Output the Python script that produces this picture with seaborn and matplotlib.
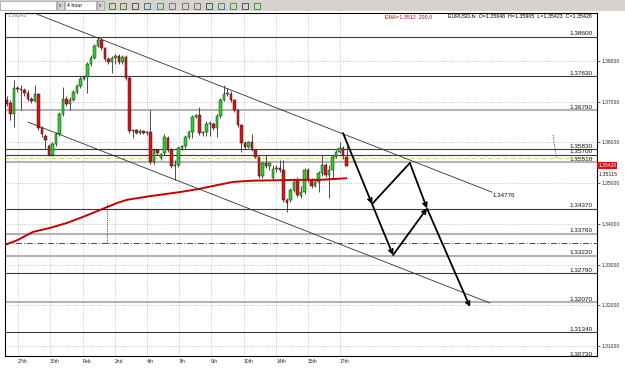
import numpy as np
import matplotlib
matplotlib.use("Agg")
import matplotlib.pyplot as plt
from matplotlib.patches import Rectangle
import seaborn as sns

# ---------------- data ----------------
opens = [1.3704, 1.3697, 1.3670, 1.3734, 1.3731, 1.3729, 1.3721, 1.3707, 1.3702, 1.3719,
         1.3635, 1.3616, 1.3591, 1.3569, 1.3596, 1.3620, 1.3670, 1.3707, 1.3694, 1.3704,
         1.3724, 1.3739, 1.3756, 1.3761, 1.3793, 1.3807, 1.3837, 1.3852, 1.3832, 1.3805,
         1.3798, 1.3807, 1.3812, 1.3798, 1.3810, 1.3758, 1.3628, 1.3630, 1.3623, 1.3628,
         1.3623, 1.3625, 1.3552, 1.3581, 1.3562, 1.3574, 1.3611, 1.3581, 1.3542, 1.3545,
         1.3586, 1.3591, 1.3613, 1.3625, 1.3662, 1.3667, 1.3623, 1.3625, 1.3645, 1.3645,
         1.3635, 1.3665, 1.3704, 1.3719, 1.3719, 1.3704, 1.3680, 1.3643, 1.3598, 1.3589,
         1.3601, 1.3581, 1.3564, 1.3517, 1.3549, 1.3542, 1.3512, 1.3535, 1.3537, 1.3532,
         1.3458, 1.3458, 1.3483, 1.3508, 1.3468, 1.3478, 1.3532, 1.3508, 1.3493, 1.3503,
         1.3525, 1.3545, 1.3520, 1.3532, 1.3564, 1.3576, 1.3586, 1.35648]
closes = [1.3694, 1.3670, 1.3734, 1.3731, 1.3729, 1.3721, 1.3707, 1.3702, 1.3719, 1.3635,
          1.3620, 1.3606, 1.3569, 1.3596, 1.3620, 1.3670, 1.3707, 1.3694, 1.3704, 1.3724,
          1.3739, 1.3756, 1.3761, 1.3793, 1.3807, 1.3837, 1.3852, 1.3832, 1.3805, 1.3798,
          1.3807, 1.3812, 1.3798, 1.3810, 1.3758, 1.3628, 1.3630, 1.3623, 1.3628, 1.3623,
          1.3625, 1.3552, 1.3581, 1.3574, 1.3571, 1.3613, 1.3581, 1.3542, 1.3545, 1.3586,
          1.3591, 1.3613, 1.3625, 1.3662, 1.3667, 1.3623, 1.3625, 1.3645, 1.3648, 1.3635,
          1.3665, 1.3704, 1.3719, 1.3721, 1.3704, 1.3680, 1.3643, 1.3598, 1.3589, 1.3601,
          1.3581, 1.3564, 1.3517, 1.3549, 1.3542, 1.3549, 1.3535, 1.3537, 1.3532, 1.3458,
          1.3451, 1.3483, 1.3503, 1.3471, 1.3478, 1.3532, 1.3508, 1.3493, 1.3503, 1.3525,
          1.3545, 1.3520, 1.3532, 1.3564, 1.3576, 1.3586, 1.3567, 1.35428]
highs = [1.3714, 1.3704, 1.3753, 1.3739, 1.3741, 1.3734, 1.3729, 1.3711, 1.3741, 1.3721,
         1.3640, 1.3620, 1.3596, 1.3601, 1.3625, 1.3675, 1.3736, 1.3714, 1.3711, 1.3729,
         1.3744, 1.3763, 1.3766, 1.3798, 1.3815, 1.3842, 1.3859, 1.3857, 1.3834, 1.3810,
         1.3812, 1.3817, 1.3817, 1.3815, 1.3815, 1.3763, 1.3633, 1.3633, 1.3633, 1.3630,
         1.3628, 1.3680, 1.3586, 1.3584, 1.3574, 1.3620, 1.3616, 1.3586, 1.3557, 1.3591,
         1.3593, 1.3618, 1.3630, 1.3667, 1.3670, 1.3687, 1.3628, 1.3653, 1.3653, 1.3650,
         1.3670, 1.3709, 1.3741, 1.3734, 1.3726, 1.3707, 1.3682, 1.3645, 1.3603, 1.3603,
         1.3620, 1.3584, 1.3567, 1.3552, 1.3569, 1.3552, 1.3545, 1.3545, 1.3557, 1.3557,
         1.3463, 1.3488, 1.3512, 1.3515, 1.3493, 1.3537, 1.3537, 1.3512, 1.3508, 1.3530,
         1.3569, 1.3549, 1.3545, 1.3569, 1.3581, 1.3601, 1.3591, 1.35905]
lows = [1.3689, 1.3655, 1.3638, 1.3724, 1.3680, 1.3714, 1.3702, 1.3697, 1.3699, 1.3630,
        1.3613, 1.3584, 1.3567, 1.3567, 1.3591, 1.3616, 1.3665, 1.3689, 1.3680, 1.3702,
        1.3719, 1.3734, 1.3753, 1.3721, 1.3788, 1.3805, 1.3834, 1.3827, 1.3800, 1.3793,
        1.3770, 1.3793, 1.3793, 1.3793, 1.3753, 1.3623, 1.3611, 1.3620, 1.3620, 1.3620,
        1.3618, 1.3547, 1.3547, 1.3569, 1.3557, 1.3569, 1.3576, 1.3537, 1.3508, 1.3540,
        1.3581, 1.3586, 1.3608, 1.3611, 1.3660, 1.3618, 1.3616, 1.3616, 1.3616, 1.3630,
        1.3613, 1.3660, 1.3702, 1.3714, 1.3699, 1.3675, 1.3638, 1.3576, 1.3584, 1.3586,
        1.3579, 1.3562, 1.3512, 1.3512, 1.3537, 1.3532, 1.3508, 1.3527, 1.3527, 1.3453,
        1.3429, 1.3453, 1.3478, 1.3466, 1.3463, 1.3473, 1.3503, 1.3488, 1.3490, 1.3478,
        1.3517, 1.3515, 1.3463, 1.3512, 1.3562, 1.3574, 1.3559, 1.35423]

ema_bar = [-0.6, 3, 7.4, 12.3, 17.1, 21.7, 26.6, 31.4, 34.3, 40.9, 49.4, 55.1, 58.9, 64.6, 70.3, 83.7, 89.4, 97]
ema_val = [1.3348, 1.3360, 1.3380, 1.3390, 1.3402, 1.3417, 1.3434, 1.3451, 1.3459, 1.3468,
           1.3478, 1.3486, 1.3493, 1.3503, 1.3506, 1.3508, 1.3508, 1.3512]

date_labels = ["27th", "30th", "Feb", "2nd", "4th", "7th", "9th", "10th", "14th", "15th", "17th"]
date_bars = [3.1, 12.3, 21.7, 30.9, 40.0, 49.1, 58.3, 67.7, 76.9, 86.0, 95.1]

price_ticks = [1.31, 1.32, 1.33, 1.34, 1.35, 1.36, 1.37, 1.38]

levels = [1.3860, 1.3763, 1.3679, 1.3583, 1.3570, 1.3551, 1.3437, 1.3376, 1.3322, 1.3279, 1.3207, 1.3134, 1.3073]
level_kind = ["dark", "dark", "gray", "dark", "dark", "gray", "dark", "gray", "gray", "dark", "gray", "dark", "dark"]
dashdot_level = 1.3353
bid_level = 1.3562

upper_channel_bar = [7.7, 138.6]
upper_channel_val = [1.3918, 1.34776]
lower_channel_bar = [6.0, 138.0]
lower_channel_val = [1.3650, 1.32054]

# forecast path segments
path_from_bar = [96.0, 104.3, 115.1, 104.3, 110.3, 120.0]
path_from_val = [1.36231, 1.34487, 1.35494, 1.34487, 1.33233, 1.34380]
path_to_bar = [104.3, 115.1, 120.0, 110.3, 120.0, 132.3]
path_to_val = [1.34487, 1.35494, 1.34380, 1.33233, 1.34380, 1.31956]
path_head = [True, False, True, True, True, True]

marker_bar = [[28.6, 28.6, 29.1], [156.0, 157.0]]
marker_val = [[1.3451, 1.3353, 1.3353], [1.3618, 1.3562]]

ema_text = "EMA=1.3512  200,0"
info_text = "EURUSD.fx  O=1.35648  H=1.35905  L=1.35423  C=1.35428"
last_close = 1.35428
ema_last = "1.35115"
top_price = "1.39243"
channel_end = "1.34776"

# ---------------- figure ----------------
sns.set_style("white")
plt.rcParams["font.family"] = ["Liberation Sans", "DejaVu Sans"]

W, H = 625, 369
fig = plt.figure(figsize=(W / 100, H / 100), dpi=100)
fig.patch.set_facecolor("white")
ax = fig.add_axes([5 / W, 13 / H, 592 / W, 343.5 / H])
ax.set_facecolor("white")

n = len(opens)
xb = np.arange(n)
o = np.array(opens); c = np.array(closes)
hi = np.array(highs); lo = np.array(lows)
up = c >= o

ax.vlines(xb, lo, hi, color="#303030", lw=0.6, zorder=3)
body_h = np.maximum(np.abs(c - o), 0.00012)
body_b = np.minimum(o, c)
ax.bar(xb[up], body_h[up], bottom=body_b[up], width=0.8, color="#28d628",
       edgecolor="#1d1d1d", linewidth=0.35, zorder=4)
ax.bar(xb[~up], body_h[~up], bottom=body_b[~up], width=0.8, color="#e01212",
       edgecolor="#1d1d1d", linewidth=0.35, zorder=4)

# EMA
sns.lineplot(x=ema_bar, y=ema_val, color="#c40000", lw=1.4, ax=ax, zorder=5, sort=False)

# level lines
ytr = ax.get_yaxis_transform()
for lv, kind in zip(levels, level_kind):
    if kind == "gray":
        ax.axhline(lv, color="#b3b3b3", lw=1.5, zorder=2)
    else:
        ax.axhline(lv, color="#3c3c3c", lw=0.8, zorder=2)
    ax.text(0.9932, lv + 0.00008, f"{lv:.5f}", transform=ytr, ha="right", va="bottom",
            fontsize=4.6, color="#111111", zorder=6)
ax.axhline(dashdot_level, color="#6b3a3a", lw=0.7, ls=(0, (6, 2, 1, 2)), zorder=2)
ax.axhline(bid_level, color="#e2d66a", lw=0.8, ls=(0, (4, 3)), zorder=2)

# channel
ax.plot(upper_channel_bar, upper_channel_val, color="#303030", lw=0.6, zorder=5)
ax.plot(lower_channel_bar, lower_channel_val, color="#303030", lw=0.6, zorder=5)
ax.text(upper_channel_bar[1], upper_channel_val[1] - 0.0001, channel_end, ha="left", va="top",
        fontsize=4.4, color="#111111")

# forecast arrows
for x0, y0, x1, y1, hd in zip(path_from_bar, path_from_val, path_to_bar, path_to_val, path_head):
    ax.annotate("", xy=(x1, y1), xytext=(x0, y0),
                arrowprops=dict(arrowstyle="->" if hd else "-", lw=1.3, color="black",
                                mutation_scale=7, shrinkA=0, shrinkB=0), zorder=7)

for mb, mv in zip(marker_bar, marker_val):
    ax.plot(mb, mv, color="#222222", lw=0.6, ls=(0, (1, 1.2)), zorder=5)

# axes
ax.set_xlim(-0.57, 168.57)
ax.set_ylim(1.30752, 1.39192)
ax.yaxis.tick_right()
ax.set_yticks(price_ticks)
ax.set_yticklabels([f"{v:.5f}" for v in price_ticks], fontsize=3.6)
ax.set_xticks(date_bars)
ax.set_xticklabels(date_labels, fontsize=3.6, ha="left")
ax.tick_params(axis="x", length=0, pad=2)
ax.tick_params(axis="y", length=2, width=0.5, pad=1, right=True, left=False)
ax.grid(True, color="#9c9c9c", lw=0.5, ls=(0, (1, 2)))
ax.set_axisbelow(True)
for s in ax.spines.values():
    s.set_color("#000000"); s.set_linewidth(0.8); s.set_visible(True)
ax.set_xlabel(""); ax.set_ylabel("")

# header texts inside the chart
ax.text(0.005, 0.992, top_price, transform=ax.transAxes, ha="left", va="center",
        fontsize=3.8, color="#777777")
ax.text(0.642, 0.987, ema_text, transform=ax.transAxes, ha="left", va="center",
        fontsize=3.75, color="#9b1010")
ax.text(0.748, 0.987, info_text, transform=ax.transAxes, ha="left", va="center",
        fontsize=3.75, color="#000000")

# right-axis price box and EMA value
ax.text(1.002, last_close, f"{last_close:.5f}", transform=ytr, ha="left", va="center",
        fontsize=3.6, color="white",
        bbox=dict(boxstyle="square,pad=0.25", fc="#dd1010", ec="#dd1010", lw=0))
ax.text(1.003, 1.3522, ema_last, transform=ytr, ha="left", va="center",
        fontsize=3.8, color="#5a0000")

# toolbar strip
def fr(x, y, w, h, **kw):
    fig.add_artist(Rectangle((x / W, 1 - (y + h) / H), w / W, h / H,
                             transform=fig.transFigure, **kw))

fr(0, 0, W, 11, fc="#d6d3ce", ec="none")
fr(0, 1.5, 56, 8, fc="white", ec="#8a8a8a", lw=0.4)
fr(57, 1.5, 7, 8, fc="#d6d3ce", ec="#8a8a8a", lw=0.4)
fr(65, 1.5, 31, 8, fc="white", ec="#8a8a8a", lw=0.4)
fr(97, 1.5, 7, 8, fc="#d6d3ce", ec="#8a8a8a", lw=0.4)
fig.text(67 / W, 1 - 5.8 / H, "4 hour", fontsize=3.8, va="center", ha="left", color="black")
for bx in (60.5, 100.5):
    fig.text(bx / W, 1 - 5.8 / H, "v", fontsize=3.5, va="center", ha="center", color="#222222")
icon_x = [112, 123, 135, 147, 160, 172, 185, 197, 209, 221, 233, 245, 257]
icon_c = ["#3a8a3a", "#3a8a3a", "#555555", "#3d6fb0", "#4a9a4a", "#777777", "#777777",
          "#777777", "#555555", "#2f7fd0", "#4a9a4a", "#555555", "#3a9a3a"]
for ix, ic in zip(icon_x, icon_c):
    fr(ix - 3, 2.5, 6, 6, fc="none", ec=ic, lw=0.7)

fig.savefig("out.png", dpi=100, facecolor="white")
